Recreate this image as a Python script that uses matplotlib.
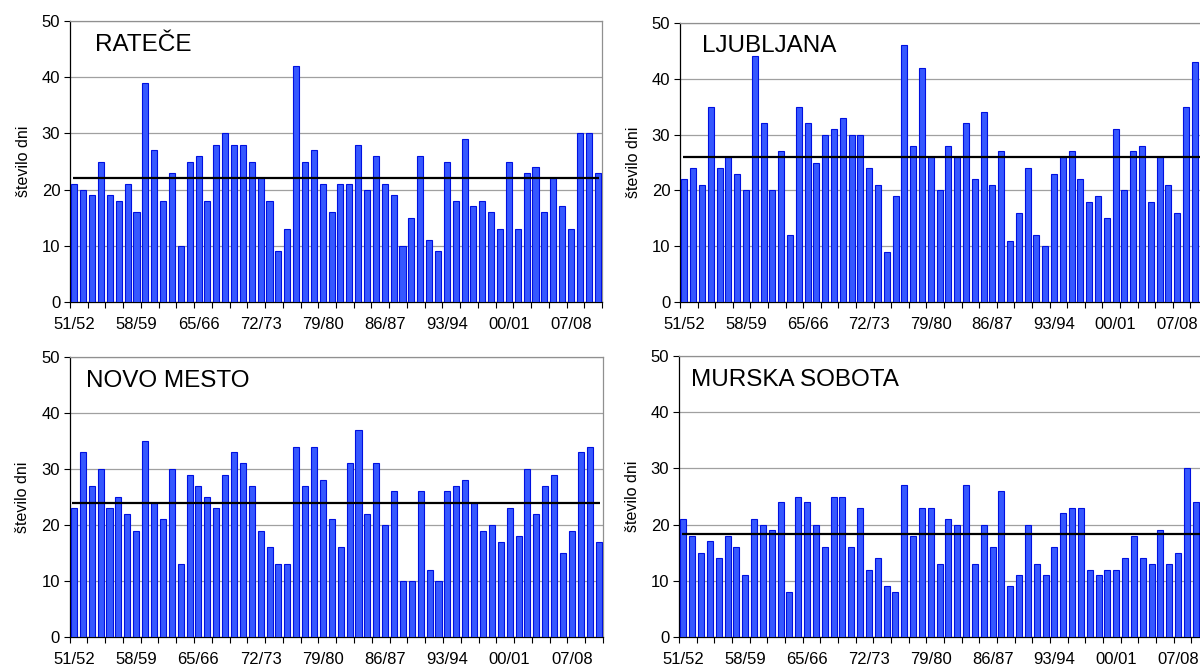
import numpy as np
import matplotlib
matplotlib.use('Agg')
import matplotlib.pyplot as plt
from matplotlib.ticker import MultipleLocator, FixedLocator

plt.rcParams['font.family'] = ['Liberation Sans', 'DejaVu Sans']

# seasons 51/52 ... 10/11 (60 winters); labels every 7th season
N_SEASONS = 60
tick_labels = ['51/52', '58/59', '65/66', '72/73', '79/80', '86/87', '93/94', '00/01', '07/08']

ratece = [21, 20, 19, 25, 19, 18, 21, 16, 39, 27, 18, 23, 10, 25, 26, 18, 28, 30, 28, 28,
          25, 22, 18, 9, 13, 42, 25, 27, 21, 16, 21, 21, 28, 20, 26, 21, 19, 10, 15, 26,
          11, 9, 25, 18, 29, 17, 18, 16, 13, 25, 13, 23, 24, 16, 22, 17, 13, 30, 30, 23]
# last season of the right-hand panels is cut off by the picture edge
ljubljana = [22, 24, 21, 35, 24, 26, 23, 20, 44, 32, 20, 27, 12, 35, 32, 25, 30, 31, 33, 30,
             30, 24, 21, 9, 19, 46, 28, 42, 26, 20, 28, 26, 32, 22, 34, 21, 27, 11, 16, 24,
             12, 10, 23, 26, 27, 22, 18, 19, 15, 31, 20, 27, 28, 18, 26, 21, 16, 35, 43]
novo_mesto = [23, 33, 27, 30, 23, 25, 22, 19, 35, 24, 21, 30, 13, 29, 27, 25, 23, 29, 33, 31,
              27, 19, 16, 13, 13, 34, 27, 34, 28, 21, 16, 31, 37, 22, 31, 20, 26, 10, 10, 26,
              12, 10, 26, 27, 28, 24, 19, 20, 17, 23, 18, 30, 22, 27, 29, 15, 19, 33, 34, 17]
murska_sobota = [21, 18, 15, 17, 14, 18, 16, 11, 21, 20, 19, 24, 8, 25, 24, 20, 16, 25, 25, 16,
                 23, 12, 14, 9, 8, 27, 18, 23, 23, 13, 21, 20, 27, 13, 20, 16, 26, 9, 11, 20,
                 13, 11, 16, 22, 23, 23, 12, 11, 12, 12, 14, 18, 14, 13, 19, 13, 15, 30, 24]

means = [22, 26, 24, 18.4]
names = ['RATEČE', 'LJUBLJANA', 'NOVO MESTO', 'MURSKA SOBOTA']
series = [ratece, ljubljana, novo_mesto, murska_sobota]

W, H = 1200, 666
# axes boxes in pixels: left, right, top, bottom
boxes = [(70, 602, 21, 302), (680, 1208, 23, 302),
         (69.5, 603, 357, 637), (679, 1209, 356, 637)]
title_offsets = [(25, -24), (22, -23), (16, -24), (12, -24)]

fig = plt.figure(figsize=(12, 6.66), dpi=100)

for vals, mean, name, box, off in zip(series, means, names, boxes, title_offsets):
    l, r, t, b = box
    ax = fig.add_axes([l / W, 1 - b / H, (r - l) / W, (b - t) / H])
    x = np.arange(len(vals))
    ax.bar(x, vals, width=0.68, color='#3658ff', edgecolor='#0010e0', linewidth=0.8, zorder=3)
    ax.hlines(mean, -0.2, N_SEASONS - 0.8, color='black', lw=1.6, zorder=4)
    ax.set_xlim(-0.5, N_SEASONS - 0.5)
    ax.set_ylim(0, 50)

    ax.yaxis.set_major_locator(MultipleLocator(10))
    ax.grid(axis='y', color='#a0a0a0', lw=0.9, zorder=0)
    ax.tick_params(axis='y', direction='out', length=4, width=0.8, pad=3, labelsize=12)

    ax.xaxis.set_major_locator(FixedLocator(np.arange(len(tick_labels)) * 7))
    ax.set_xticklabels(tick_labels)
    ax.xaxis.set_minor_locator(FixedLocator(np.arange(-0.5, N_SEASONS, 2)))
    ax.tick_params(axis='x', which='major', length=0, pad=11, labelsize=12)
    ax.tick_params(axis='x', which='minor', direction='out', length=4, width=0.8)

    for s in ['top', 'right']:
        ax.spines[s].set_color('#909090')
        ax.spines[s].set_linewidth(0.9)
    for s in ['left', 'bottom']:
        ax.spines[s].set_color('black')
        ax.spines[s].set_linewidth(0.9)

    ax.set_ylabel('število dni', fontsize=11.5, labelpad=8)
    ax.annotate(name, xy=(0, 1), xycoords='axes fraction', xytext=off,
                textcoords='offset pixels', ha='left', va='center', fontsize=17.5)

fig.savefig('out.png', dpi=100)
